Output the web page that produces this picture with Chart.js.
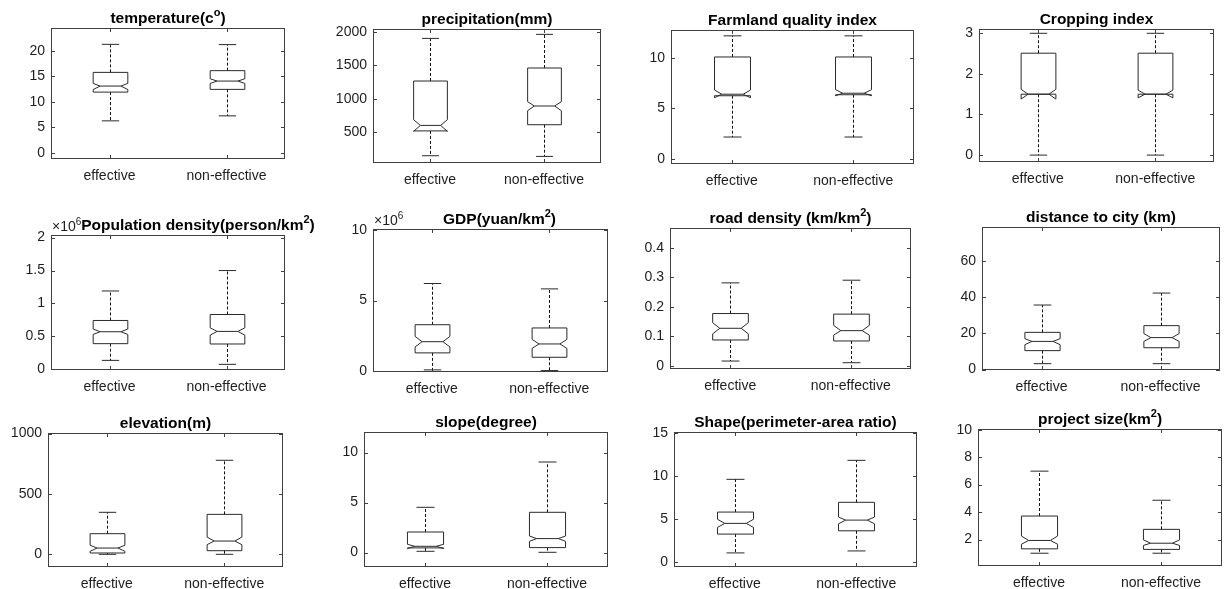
<!DOCTYPE html>
<html>
<head>
<meta charset="utf-8">
<script src="https://cdn.jsdelivr.net/npm/chart.js@4.4.0/dist/chart.umd.min.js"></script>
<style>
  body { margin: 0; background: #fff; width: 1227px; height: 589px; position: relative; overflow: hidden; }
  canvas { position: absolute; }
</style>
</head>
<body>
<script>
// ---- data ----
const categories = ['effective', 'non-effective'];

const titles = [
  'temperature(c^o)', 'precipitation(mm)', 'Farmland quality index', 'Cropping index',
  'Population density(person/km^2)', 'GDP(yuan/km^2)', 'road density (km/km^2)', 'distance to city (km)',
  'elevation(m)', 'slope(degree)', 'Shape(perimeter-area ratio)', 'project size(km^2)'
];

// each group: [whisker low, q1, notch low, median, notch high, q3, whisker high]
const temperature   = [[6.27, 11.9, 12.4, 13.08, 13.6, 15.76, 21.25], [7.25, 12.43, 13.6, 14.06, 14.5, 16.1, 21.2]];
const precipitation = [[152, 522, 515, 604, 689, 1265, 1900], [142, 614, 823, 893, 957, 1459, 1960]];
const farmland      = [[2.15, 6.25, 6.05, 6.4, 6.82, 10.1, 12.2], [2.15, 6.35, 6.25, 6.5, 6.85, 10.1, 12.2]];
const cropping      = [[0, 1.5, 1.38, 1.5, 1.62, 2.51, 3.0], [0, 1.5, 1.41, 1.5, 1.6, 2.51, 3.0]];
const population    = [[0.136, 0.39, 0.53, 0.571, 0.612, 0.742, 1.19], [0.076, 0.385, 0.52, 0.576, 0.63, 0.833, 1.5]];
const gdp           = [[0.1, 1.30, 1.72, 2.09, 2.46, 3.29, 6.2], [0.05, 0.99, 1.62, 1.93, 2.25, 3.06, 5.82]];
const road          = [[0.016, 0.0874, 0.108, 0.127, 0.146, 0.177, 0.281], [0.0103, 0.084, 0.104, 0.119, 0.137, 0.175, 0.29]];
const distance      = [[3.3, 10.5, 13.8, 15.6, 17.1, 20.6, 35.7], [3.3, 12.1, 15.6, 17.7, 19.9, 24.3, 42.3]];
const elevation     = [[0, 11, 25, 52, 75, 171, 348], [0, 30, 80, 110, 143, 331, 779]];
const slope         = [[0.13, 0.47, 0.4, 0.63, 0.83, 2.06, 4.53], [0.03, 0.5, 1.13, 1.4, 1.66, 4.03, 9.06]];
const shape         = [[1.08, 3.26, 4.03, 4.5, 4.97, 5.81, 9.6], [1.31, 3.64, 4.45, 4.88, 5.23, 6.94, 11.8]];
const projectSize   = [[1.0, 1.32, 1.66, 1.93, 2.25, 3.71, 6.98], [1.0, 1.28, 1.57, 1.73, 1.97, 2.74, 4.86]];

const panelStats = [temperature, precipitation, farmland, cropping, population, gdp,
                    road, distance, elevation, slope, shape, projectSize];

const yTicks = [
  [0, 5, 10, 15, 20], [500, 1000, 1500, 2000], [0, 5, 10], [0, 1, 2, 3],
  [0, 0.5, 1, 1.5, 2], [0, 5, 10], [0, 0.1, 0.2, 0.3, 0.4], [0, 20, 40, 60],
  [0, 500, 1000], [0, 5, 10], [0, 5, 10, 15], [2, 4, 6, 8, 10]
];
const yLimits = [
  [-1.2, 24.45], [44, 2040], [-0.53, 12.78], [-0.17, 3.106],
  [-0.01, 2.04], [-0.05, 10.05], [-0.011, 0.467], [-0.2, 78.8],
  [-105, 1005], [-1.44, 12.06], [-0.55, 15.08], [0.07, 10.05]
];
const yExponent = [null, null, null, null, 6, 6, null, null, null, null, null, null];

// ---- layout (axes boxes in page pixels: left, top, right, bottom) ----
const axesBoxes = [
  [51, 28, 285, 159], [373, 29, 601, 163], [671, 30, 914, 164], [979, 29, 1214, 162],
  [51, 235, 285, 370], [373, 229, 608, 372], [670, 228, 911, 369], [982, 227, 1220, 370],
  [48, 433, 283, 567], [364, 432, 608, 567], [674, 432, 917, 567], [978, 429, 1222, 566]
];
const titleShift = [0, 0, 0, 0, 30, 9, 0, 0, 0, 0, 0, 0];

const PAD_L = 60, PAD_R = 40, PAD_T = 32, PAD_B = 32;
const FONT = "'Liberation Sans', Arial, Helvetica, sans-serif";
const TEXT = '#1e1e1e';

Chart.defaults.font.family = FONT;

function drawSupText(ctx, text, x, y, size, bold, align) {
  // text with ^X marking a one-char superscript
  const parts = [];
  for (let i = 0; i < text.length; i++) {
    if (text[i] === '^') { parts.push({ t: text[i + 1], sup: true }); i++; }
    else if (parts.length && !parts[parts.length - 1].sup) parts[parts.length - 1].t += text[i];
    else parts.push({ t: text[i], sup: false });
  }
  const w = bold ? 'bold ' : '';
  const supSize = Math.round(size * 0.68);
  let total = 0;
  parts.forEach(p => {
    ctx.font = w + (p.sup ? supSize : size) + 'px ' + FONT;
    p.w = ctx.measureText(p.t).width;
    total += p.w;
  });
  let cx = align === 'center' ? x - total / 2 : x;
  ctx.textAlign = 'left';
  ctx.textBaseline = 'alphabetic';
  parts.forEach(p => {
    ctx.font = w + (p.sup ? supSize : size) + 'px ' + FONT;
    ctx.fillText(p.t, cx, p.sup ? y - size * 0.42 : y);
    cx += p.w;
  });
}

const notchedBox = {
  id: 'notchedBox',
  beforeDatasetsDraw(chart, args, opts) {
    const { ctx, chartArea: a, scales: { x, y } } = chart;
    ctx.save();
    ctx.strokeStyle = '#404040';
    ctx.lineWidth = 1;
    ctx.strokeRect(a.left + 0.5, a.top + 0.5, a.right - a.left - 1, a.bottom - a.top - 1);
    ctx.beginPath();
    y.ticks.forEach(t => {
      const py = Math.round(y.getPixelForValue(t.value)) + 0.5;
      ctx.moveTo(a.left, py); ctx.lineTo(a.left + 4, py);
      ctx.moveTo(a.right, py); ctx.lineTo(a.right - 4, py);
    });
    categories.forEach((c, i) => {
      const px = Math.round(x.getPixelForValue(i)) + 0.5;
      ctx.moveTo(px, a.bottom); ctx.lineTo(px, a.bottom - 4);
      ctx.moveTo(px, a.top); ctx.lineTo(px, a.top + 4);
    });
    ctx.stroke();
    ctx.restore();
  },
  afterDatasetsDraw(chart, args, opts) {
    const { ctx, chartArea: a, scales: { x, y } } = chart;
    const step = x.getPixelForValue(1) - x.getPixelForValue(0);
    const hw = step * 0.148;
    const iw = hw * 0.6;
    ctx.save();
    ctx.lineWidth = 1;
    opts.stats.forEach((s, i) => {
      const [wlo, q1, nlo, med, nhi, q3, whi] = s.map(v => y.getPixelForValue(v));
      const cx = Math.round(x.getPixelForValue(i)) + 0.5;
      const L = cx - hw, R = cx + hw;
      ctx.strokeStyle = '#111';
      ctx.setLineDash([3, 2]);
      ctx.beginPath();
      ctx.moveTo(cx, q3); ctx.lineTo(cx, whi);
      ctx.moveTo(cx, q1); ctx.lineTo(cx, wlo);
      ctx.stroke();
      ctx.setLineDash([]);
      ctx.strokeStyle = '#2a2a2a';
      ctx.beginPath();
      ctx.moveTo(cx - hw / 2, whi); ctx.lineTo(cx + hw / 2, whi);
      ctx.moveTo(cx - hw / 2, wlo); ctx.lineTo(cx + hw / 2, wlo);
      ctx.stroke();
      ctx.beginPath();
      ctx.moveTo(L, q1); ctx.lineTo(L, nlo); ctx.lineTo(cx - iw, med); ctx.lineTo(L, nhi); ctx.lineTo(L, q3);
      ctx.lineTo(R, q3); ctx.lineTo(R, nhi); ctx.lineTo(cx + iw, med); ctx.lineTo(R, nlo); ctx.lineTo(R, q1);
      ctx.closePath();
      ctx.stroke();
      ctx.beginPath();
      ctx.moveTo(cx - iw, med); ctx.lineTo(cx + iw, med);
      ctx.stroke();
    });
    ctx.restore();
  },
  afterDraw(chart, args, opts) {
    const { ctx, chartArea: a } = chart;
    ctx.save();
    ctx.fillStyle = TEXT;
    if (opts.exponent != null) {
      drawSupText(ctx, '\u00d710^' + opts.exponent, a.left + 1, a.top - 4, 14, false, 'left');
    }
    ctx.fillStyle = '#000';
    drawSupText(ctx, opts.title, (a.left + a.right) / 2 + opts.shift, a.top - 5, 15.5, true, 'center');
    ctx.restore();
  }
};

panelStats.forEach((stats, p) => {
  const [l, t, r, b] = axesBoxes[p];
  const canvas = document.createElement('canvas');
  canvas.width = r - l + PAD_L + PAD_R;
  canvas.height = b - t + PAD_T + PAD_B;
  canvas.style.left = (l - PAD_L) + 'px';
  canvas.style.top = (t - PAD_T) + 'px';
  document.body.appendChild(canvas);

  new Chart(canvas.getContext('2d'), {
    type: 'line',
    data: {
      labels: categories,
      datasets: [{ data: stats.map(s => s[3]), pointRadius: 0, showLine: false }]
    },
    options: {
      responsive: false,
      animation: false,
      events: [],
      layout: { padding: { top: PAD_T, right: PAD_R, left: 0, bottom: 0 } },
      plugins: {
        legend: { display: false },
        tooltip: { enabled: false },
        notchedBox: { stats: stats, title: titles[p], shift: titleShift[p], exponent: yExponent[p] }
      },
      scales: {
        x: {
          type: 'category',
          offset: true,
          grid: { display: false, drawTicks: false },
          border: { display: false },
          ticks: { color: TEXT, font: { size: 14 }, padding: 9, maxRotation: 0 },
          afterFit: s => { s.height = PAD_B; }
        },
        y: {
          type: 'linear',
          min: yLimits[p][0],
          max: yLimits[p][1],
          grid: { display: false, drawTicks: false },
          border: { display: false },
          ticks: { color: TEXT, font: { size: 14 }, padding: 6, callback: v => String(v) },
          afterBuildTicks: s => { s.ticks = yTicks[p].map(v => ({ value: v })); },
          afterFit: s => { s.width = PAD_L; }
        }
      }
    },
    plugins: [notchedBox]
  });
});
</script>
</body>
</html>
